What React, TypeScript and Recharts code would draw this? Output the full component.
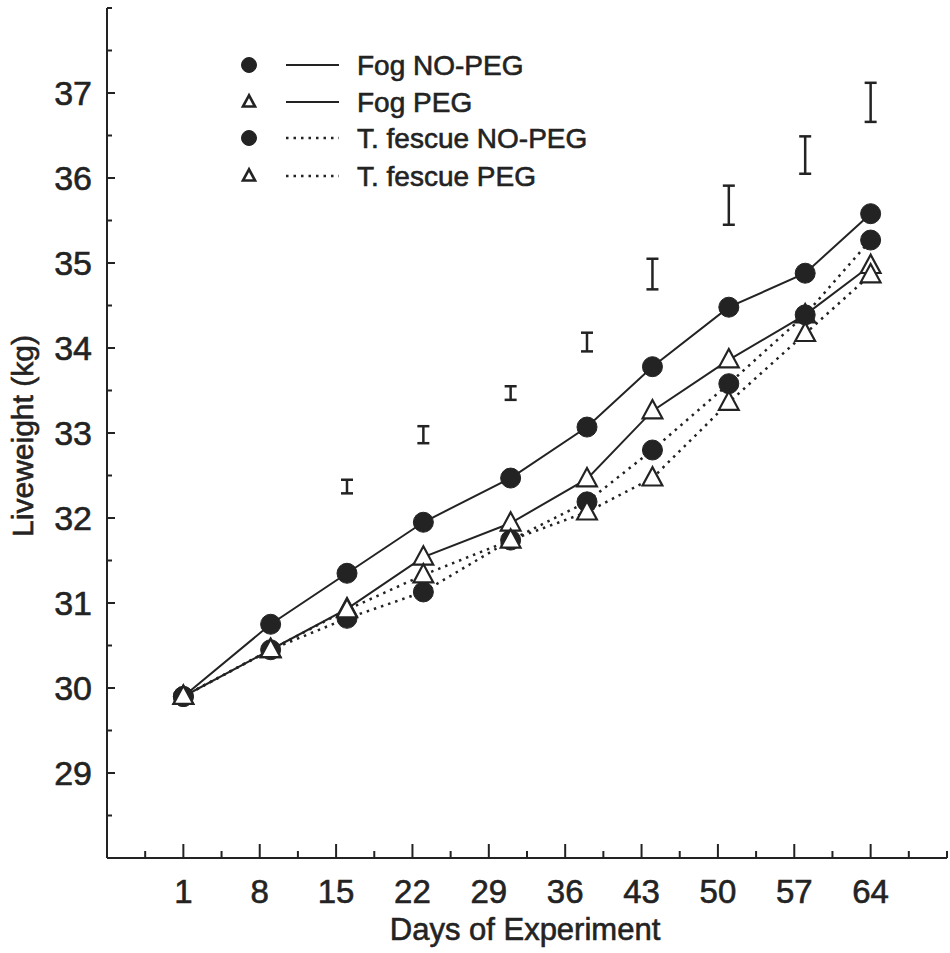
import React from 'react';
import { LineChart, Line, XAxis, YAxis, ErrorBar, Legend } from 'recharts';

const days = [1, 9, 16, 23, 31, 38, 44, 51, 58, 64];
const fogNoPeg = [29.9, 30.75, 31.35, 31.95, 32.47, 33.07, 33.78, 34.48, 34.88, 35.58];
const fogPeg = [29.9, 30.45, 30.93, 31.54, 31.94, 32.46, 33.26, 33.86, 34.39, 34.97];
const fescueNoPeg = [29.9, 30.45, 30.82, 31.13, 31.74, 32.19, 32.8, 33.58, 34.39, 35.27];
const fescuePeg = [29.9, 30.45, 30.92, 31.33, 31.74, 32.07, 32.47, 33.36, 34.17, 34.86];

const sedDays = [16, 23, 31, 38, 44, 51, 58, 64];
const sedCenter = [32.37, 32.98, 33.47, 34.07, 34.87, 35.68, 36.27, 36.89];
const sedHalf = [0.08, 0.1, 0.08, 0.11, 0.18, 0.23, 0.22, 0.23];

const xMajorTicks = [1, 8, 15, 22, 29, 36, 43, 50, 57, 64];
const xMinorTicks = [-2.5, 4.5, 11.5, 18.5, 25.5, 32.5, 39.5, 46.5, 53.5, 60.5, 67.5, 71];
const yMajorTicks = [29, 30, 31, 32, 33, 34, 35, 36, 37];
const yMinorTicks = [28.5, 29.5, 30.5, 31.5, 32.5, 33.5, 34.5, 35.5, 36.5, 37.5, 38];

const seriesNames = ['Fog NO-PEG', 'Fog PEG', 'T. fescue NO-PEG', 'T. fescue PEG'];
const seriesKeys = ['fogNoPeg', 'fogPeg', 'fescueNoPeg', 'fescuePeg'];
const seriesMarkers = ['circle', 'triangle', 'circle', 'triangle'];
const seriesDashed = [false, false, true, true];

const rows = days.map((d, i) => ({
  day: d,
  fogNoPeg: fogNoPeg[i],
  fogPeg: fogPeg[i],
  fescueNoPeg: fescueNoPeg[i],
  fescuePeg: fescuePeg[i],
}));
const sedRows = sedDays.map((d, i) => ({ day: d, center: sedCenter[i], err: sedHalf[i] }));

const INK = '#232323';
const FONT = '"Liberation Sans", Arial, Helvetica, sans-serif';
const TEXT_STROKE = 0.6;

function Marker({ type, cx, cy, size, sw }: { type: string; cx: number; cy: number; size: number; sw?: number }) {
  if (cx == null || cy == null || isNaN(cx) || isNaN(cy)) return null;
  if (type === 'circle') {
    return <circle cx={cx} cy={cy} r={size} fill={INK} stroke={INK} strokeWidth={1} />;
  }
  const h = size * 1.1;
  const w = size * 1.1;
  const pts = `${cx},${cy - h * 1.1} ${cx - w},${cy + h * 0.75} ${cx + w},${cy + h * 0.75}`;
  return <polygon points={pts} fill="#fff" stroke={INK} strokeWidth={sw ?? 2.2} strokeLinejoin="miter" />;
}

function XTick(props: any) {
  const { x, y, payload } = props;
  const major = xMajorTicks.includes(payload.value);
  return (
    <g>
      <line x1={x} x2={x} y1={y} y2={y - (major ? 14 : 7)} stroke={INK} strokeWidth={2} />
      {major && (
        <text x={x} y={y + 45} textAnchor="middle" fontSize={33} fontFamily={FONT} fill={INK} stroke={INK} strokeWidth={TEXT_STROKE}>
          {payload.value}
        </text>
      )}
    </g>
  );
}

function YTick(props: any) {
  const { x, y, payload } = props;
  const major = yMajorTicks.includes(payload.value);
  return (
    <g>
      <line x1={x} x2={x + (major ? 8 : 5)} y1={y} y2={y} stroke={INK} strokeWidth={2} />
      {major && (
        <text x={x - 15} y={y + 12} textAnchor="end" fontSize={34} fontFamily={FONT} fill={INK} stroke={INK} strokeWidth={TEXT_STROKE}>
          {payload.value}
        </text>
      )}
    </g>
  );
}

function XTitle(props: any) {
  const vb = props.viewBox || { x: 107, y: 858, width: 841, height: 0 };
  return (
    <text x={vb.x + vb.width / 2 - 2} y={vb.y + 82} textAnchor="middle" fontSize={31} fontFamily={FONT} fill={INK} stroke={INK} strokeWidth={TEXT_STROKE}>
      Days of Experiment
    </text>
  );
}

function YTitle(props: any) {
  const vb = props.viewBox || { x: 106, y: 8, width: 1, height: 850 };
  const cx = vb.x + vb.width - 74;
  const cy = vb.y + vb.height / 2 + 3;
  return (
    <text x={cx} y={cy} transform={`rotate(-90, ${cx}, ${cy})`} textAnchor="middle" fontSize={30} fontFamily={FONT} fill={INK} stroke={INK} strokeWidth={TEXT_STROKE}>
      Liveweight (kg)
    </text>
  );
}

function LegendContent() {
  const rowY = [20, 57, 93, 131];
  return (
    <svg width={420} height={160} style={{ overflow: 'visible' }}>
      {seriesNames.map((name, i) => (
        <g key={name}>
          <Marker type={seriesMarkers[i]} cx={19} cy={rowY[i]} size={seriesMarkers[i] === 'circle' ? 7.5 : 5.5} sw={2.6} />
          <line
            x1={56}
            x2={109}
            y1={rowY[i]}
            y2={rowY[i]}
            stroke={INK}
            strokeWidth={seriesDashed[i] ? 2.5 : 2.2}
            strokeDasharray={seriesDashed[i] ? '2.5 5' : undefined}
          />
          <text x={127} y={rowY[i] + 10} fontSize={28} fontFamily={FONT} fill={INK} stroke={INK} strokeWidth={TEXT_STROKE}>
            {name}
          </text>
        </g>
      ))}
    </svg>
  );
}

export default function App() {
  return (
    <div style={{ position: 'absolute', left: 0, top: 0, width: 950, height: 953, background: '#fff' }}>
      <LineChart width={950} height={953} data={rows} margin={{ top: 8, right: 3, bottom: 94, left: 106 }}>
        <XAxis
          type="number"
          dataKey="day"
          domain={[-6, 71]}
          ticks={[...xMinorTicks, ...xMajorTicks]}
          interval={0}
          tick={<XTick />}
          tickLine={false}
          tickSize={0}
          tickMargin={0}
          height={1}
          axisLine={{ stroke: INK, strokeWidth: 2 }}
          allowDataOverflow
          label={<XTitle />}
        />
        <YAxis
          type="number"
          domain={[28, 38]}
          ticks={[...yMinorTicks, ...yMajorTicks]}
          interval={0}
          tick={<YTick />}
          tickLine={false}
          tickSize={0}
          tickMargin={0}
          width={1}
          axisLine={{ stroke: INK, strokeWidth: 2 }}
          allowDataOverflow
          label={<YTitle />}
        />
        <Legend
          layout="vertical"
          align="center"
          verticalAlign="middle"
          content={<LegendContent />}
          wrapperStyle={{ top: 45, left: 230, width: 420, height: 160 }}
        />
        <Line
          data={sedRows}
          dataKey="center"
          stroke="none"
          dot={false}
          activeDot={false}
          legendType="none"
          isAnimationActive={false}
        >
          <ErrorBar dataKey="err" width={6} stroke={INK} strokeWidth={2.5} direction="y" />
        </Line>
        {seriesKeys.map((k, i) => (
          <Line
            key={k}
            dataKey={k}
            name={seriesNames[i]}
            stroke={INK}
            strokeWidth={seriesDashed[i] ? 2.5 : 2}
            strokeDasharray={seriesDashed[i] ? '2.5 5' : undefined}
            isAnimationActive={false}
            activeDot={false}
            dot={(p: any) => (
              <Marker key={`${k}-${p.index}`} type={seriesMarkers[i]} cx={p.cx} cy={p.cy} size={seriesMarkers[i] === 'circle' ? 10 : 9} />
            )}
          />
        ))}
      </LineChart>
    </div>
  );
}
